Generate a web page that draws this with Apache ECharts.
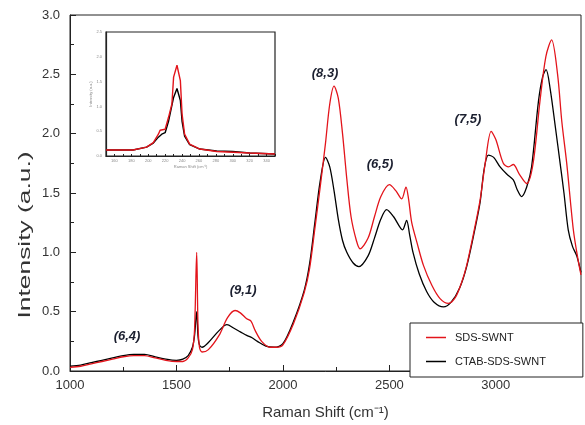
<!DOCTYPE html>
<html>
<head>
<meta charset="utf-8">
<script src="https://cdn.jsdelivr.net/npm/echarts@6/dist/echarts.min.js"></script>
<style>html,body{margin:0;padding:0;background:#fff}#c{width:585px;height:425px}</style>
</head>
<body>
<div id="c"></div>
<script>
// ---- data (Raman shift cm^-1, intensity a.u.) ----
var seriesNames = ['SDS-SWNT', 'CTAB-SDS-SWNT'];
var sdsX = [1000,1050,1100,1150,1200,1250,1300,1350,1400,1450,1500,1530,1555,1575,1585,1595,1601,1608,1620,1650,1700,1740,1775,1800,1830,1850,1870,1900,1940,1970,2000,2050,2100,2125,2150,2175,2200,2220,2240,2260,2280,2300,2320,2345,2362,2400,2430,2460,2500,2530,2558,2578,2590,2605,2630,2660,2700,2738,2777,2810,2840,2863,2900,2926,2950,2978,3000,3035,3060,3082,3110,3145,3175,3207,3235,3262,3290,3310,3333,3364,3385,3400];
var sdsY = [0.03,0.04,0.06,0.08,0.10,0.12,0.13,0.13,0.11,0.09,0.08,0.08,0.11,0.18,0.35,1.00,0.40,0.20,0.16,0.18,0.30,0.45,0.51,0.49,0.44,0.42,0.34,0.25,0.20,0.20,0.22,0.40,0.66,0.86,1.20,1.55,1.92,2.25,2.40,2.30,2.00,1.62,1.30,1.10,1.03,1.12,1.30,1.47,1.57,1.52,1.45,1.55,1.45,1.25,1.08,0.89,0.72,0.61,0.57,0.62,0.75,0.89,1.20,1.44,1.75,2.02,1.95,1.75,1.72,1.74,1.66,1.58,1.75,2.27,2.65,2.79,2.50,2.10,1.75,1.19,0.95,0.81];
var ctabX = [1000,1050,1100,1150,1200,1250,1300,1350,1400,1450,1500,1530,1555,1575,1585,1595,1601,1608,1620,1650,1700,1737,1770,1800,1830,1855,1880,1920,1960,2000,2050,2100,2125,2150,2175,2200,2220,2240,2260,2280,2300,2330,2357,2400,2430,2460,2487,2520,2562,2581,2595,2611,2640,2675,2710,2754,2790,2830,2863,2900,2926,2945,2965,2990,3020,3051,3082,3100,3121,3145,3168,3200,3220,3236,3255,3280,3302,3320,3340,3360,3380,3400];
var ctabY = [0.04,0.05,0.07,0.09,0.11,0.13,0.14,0.14,0.12,0.10,0.09,0.10,0.13,0.20,0.30,0.50,0.30,0.22,0.20,0.24,0.34,0.39,0.36,0.33,0.30,0.28,0.25,0.21,0.20,0.23,0.42,0.68,0.90,1.25,1.60,1.80,1.72,1.52,1.28,1.10,1.00,0.91,0.88,0.97,1.12,1.28,1.36,1.30,1.19,1.27,1.15,1.00,0.82,0.67,0.58,0.54,0.58,0.70,0.88,1.18,1.42,1.70,1.82,1.80,1.72,1.66,1.61,1.53,1.47,1.55,1.72,2.27,2.48,2.54,2.38,2.05,1.75,1.50,1.19,1.05,0.97,0.83];
// inset (RBM region)
var insetSdsX = [150,182,198,206,212,214,220,224,228,230,234,238,240,243,249,261,281,320,350];
var insetSdsY = [0.12,0.12,0.18,0.27,0.44,0.52,0.54,0.78,1.05,1.59,1.83,1.52,0.85,0.44,0.24,0.14,0.09,0.06,0.04];
var insetCtabX = [150,182,198,206,212,216,220,224,230,234,238,240,243,249,261,281,300,320,350];
var insetCtabY = [0.12,0.12,0.18,0.26,0.38,0.44,0.47,0.70,1.18,1.36,1.12,0.70,0.40,0.23,0.14,0.10,0.09,0.06,0.04];
// peak assignments
var peakLabels = ['(6,4)', '(9,1)', '(8,3)', '(6,5)', '(7,5)'];
var peakX = [1268, 1813, 2198, 2456, 2869];
var peakY = [0.29, 0.68, 2.51, 1.74, 2.12];
var xTicks = [1000, 1500, 2000, 2500, 3000];
var yTicks = [0.0, 0.5, 1.0, 1.5, 2.0, 2.5, 3.0];

function pairs(xs, ys) { return xs.map(function (x, i) { return [x, ys[i]]; }); }

var chart = echarts.init(document.getElementById('c'), null, { renderer: 'canvas' });
var FONT = 'Liberation Sans, Arial, sans-serif';
var RED = '#e3141b';

var option = {
  animation: false,
  backgroundColor: '#fff',
  grid: [
    { left: 70, right: 4, top: 15, bottom: 48, show: true, borderColor: '#222', borderWidth: 1, backgroundColor: 'transparent' },
    { left: 106, top: 32, width: 169, height: 124, show: true, borderColor: '#222', borderWidth: 1.2, backgroundColor: '#fff' }
  ],
  legend: {
    data: seriesNames,
    orient: 'vertical',
    left: 410, top: 323,
    padding: [9, 37, 10, 16],
    itemGap: 13,
    icon: 'rect',
    itemWidth: 20, itemHeight: 1.5,
    borderColor: '#222', borderWidth: 1,
    backgroundColor: '#fff',
    textStyle: { fontFamily: FONT, fontSize: 11, color: '#222', padding: [0, 0, 0, 4] }
  },
  xAxis: [
    {
      type: 'value', gridIndex: 0, min: 1000, max: 3400, interval: 500,
      name: 'Raman Shift (cm\u207B\u00B9)', nameLocation: 'middle', nameGap: 34,
      nameTextStyle: { fontFamily: FONT, fontSize: 15, color: '#333' },
      axisLine: { show: true, lineStyle: { color: '#222' } },
      axisTick: { show: true, inside: true, length: 6, lineStyle: { color: '#222' } },
      minorTick: { show: true, splitNumber: 2, length: 4, lineStyle: { color: '#222' } },
      axisLabel: { fontFamily: FONT, fontSize: 13, color: '#333', margin: 8,
        formatter: function (v) { return xTicks.indexOf(v) >= 0 ? String(v) : ''; } },
      splitLine: { show: false }
    },
    {
      type: 'value', gridIndex: 1, min: 150, max: 350, interval: 10,
      name: 'Raman Shift (cm\u207B\u00B9)', nameLocation: 'middle', nameGap: 9,
      nameTextStyle: { fontFamily: FONT, fontSize: 4, color: '#888' },
      axisLine: { show: true, lineStyle: { color: '#222', width: 1.2 } },
      axisTick: { show: true, inside: true, length: 2, lineStyle: { color: '#222' } },
      axisLabel: { fontFamily: FONT, fontSize: 4, color: '#888', margin: 3,
        formatter: function (v) { return v % 20 === 0 ? String(v) : ''; } },
      splitLine: { show: false }
    }
  ],
  yAxis: [
    {
      type: 'value', gridIndex: 0, min: 0, max: 3, interval: 0.5,
      axisLine: { show: true, lineStyle: { color: '#222' } },
      axisTick: { show: true, inside: true, length: 6, lineStyle: { color: '#222' } },
      minorTick: { show: true, splitNumber: 2, length: 4, lineStyle: { color: '#222' } },
      axisLabel: { fontFamily: FONT, fontSize: 13, color: '#333', margin: 10,
        formatter: function (v) { return yTicks.indexOf(v) >= 0 ? v.toFixed(1) : ''; } },
      splitLine: { show: false }
    },
    {
      type: 'value', gridIndex: 1, min: 0, max: 2.5, interval: 0.5,
      name: 'Intensity (a.u.)', nameLocation: 'middle', nameGap: 10,
      nameTextStyle: { fontFamily: FONT, fontSize: 4, color: '#888' },
      axisLine: { show: true, lineStyle: { color: '#222', width: 1.2 } },
      axisTick: { show: false },
      axisLabel: { fontFamily: FONT, fontSize: 4, color: '#888', margin: 4,
        formatter: function (v) { return v.toFixed(1); } },
      splitLine: { show: false }
    }
  ],
  graphic: [
    {
      type: 'text', x: 25, y: 235, rotation: Math.PI / 2,
      style: { text: 'Intensity (a.u.)', font: '17px ' + FONT, fill: '#333', textAlign: 'center', textVerticalAlign: 'middle' },
      scaleX: 1.55
    }
  ],
  series: [
    {
      name: seriesNames[1], type: 'line', xAxisIndex: 0, yAxisIndex: 0,
      data: pairs(ctabX, ctabY), symbol: 'none', smooth: 0.3,
      lineStyle: { color: '#000', width: 1.3 }, itemStyle: { color: '#000' }, z: 2
    },
    {
      name: seriesNames[0], type: 'line', xAxisIndex: 0, yAxisIndex: 0,
      data: pairs(sdsX, sdsY), symbol: 'none', smooth: 0.3,
      lineStyle: { color: RED, width: 1.3 }, itemStyle: { color: RED }, z: 3,
      markPoint: {
        symbol: 'circle', symbolSize: 0, silent: true,
        label: { show: true, position: 'inside', formatter: '{b}', fontFamily: FONT, fontSize: 13,
          fontStyle: 'italic', fontWeight: 'bold', color: '#1c2030' },
        data: peakLabels.map(function (t, i) { return { name: t, coord: [peakX[i], peakY[i]] }; })
      }
    },
    {
      name: seriesNames[1] + ' inset', type: 'line', xAxisIndex: 1, yAxisIndex: 1,
      data: pairs(insetCtabX, insetCtabY), symbol: 'none',
      lineStyle: { color: '#000', width: 1.4 }, z: 5
    },
    {
      name: seriesNames[0] + ' inset', type: 'line', xAxisIndex: 1, yAxisIndex: 1,
      data: pairs(insetSdsX, insetSdsY), symbol: 'none',
      lineStyle: { color: RED, width: 1.4 }, z: 6
    }
  ]
};
chart.setOption(option);
</script>
</body>
</html>
